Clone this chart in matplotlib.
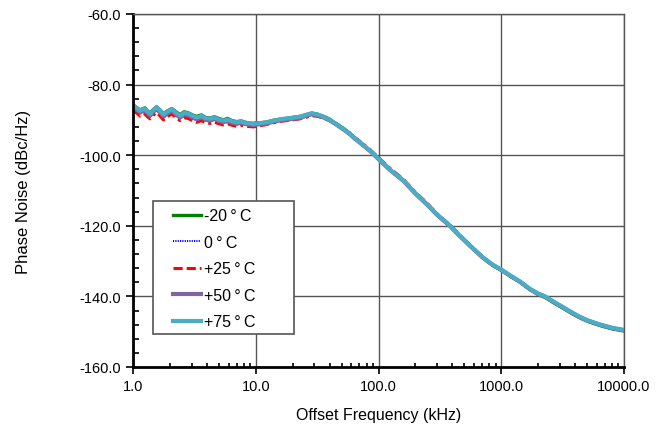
import matplotlib.pyplot as plt
from matplotlib.ticker import FixedLocator, MultipleLocator, LogLocator, NullFormatter
from matplotlib.patches import Rectangle

plt.rcParams['font.family'] = ['Liberation Sans', 'DejaVu Sans']

# offset frequency in kHz
freq = [1.00, 1.07, 1.14, 1.20, 1.25, 1.31, 1.38, 1.47, 1.56, 1.66,
        1.77, 1.92, 2.07, 2.24, 2.42, 2.61, 2.82, 3.05, 3.30, 3.60,
        3.90, 4.24, 4.60, 5.00, 5.45, 5.90, 6.40, 7.00, 7.60, 8.30,
        9.00, 9.60, 10.0, 11.0, 12.3, 14.0, 16.8, 20.0, 23.0, 26.0,
        28.6, 32.0, 35.6, 40.0, 43.0, 47.0, 51.8, 58.7, 64.0, 70.8,
        78.0, 85.3, 92.0, 100, 125, 160, 200, 247, 300, 383,
        450, 557, 700, 850, 1000, 1200, 1426, 1700, 2000, 2280,
        2700, 3200, 3700, 4263, 5000, 5700, 6600, 8000, 10000]

pn_m20 = [-85.7, -86.5, -87.2, -86.8, -86.6, -87.4, -88.0, -87.0, -86.3, -87.2,
          -88.2, -87.4, -86.8, -87.7, -88.5, -87.7, -88.0, -88.6, -89.0, -88.6,
          -89.3, -89.5, -89.1, -89.6, -90.0, -89.6, -90.2, -90.5, -90.3, -90.7,
          -90.9, -91.0, -90.8, -90.8, -90.6, -90.1, -89.7, -89.3, -89.0, -88.5,
          -88.1, -88.4, -89.0, -89.8, -90.6, -91.4, -92.4, -93.9, -95.1, -96.3,
          -97.6, -98.8, -99.9, -101.1, -104.2, -107.3, -110.9, -113.9, -116.9, -120.1,
          -122.6, -125.7, -128.9, -131.2, -132.6, -134.4, -136.0, -138.0, -139.5, -140.3,
          -141.9, -143.4, -144.7, -145.9, -147.0, -147.7, -148.4, -149.2, -149.8]

pn_0 = [-86.8, -87.4, -88.3, -87.8, -87.8, -88.5, -89.1, -88.0, -87.3, -88.3,
        -89.4, -88.4, -87.8, -88.9, -89.6, -88.8, -89.0, -89.6, -90.1, -89.7,
        -90.2, -90.5, -90.0, -90.6, -90.9, -90.6, -91.0, -91.3, -91.0, -91.4,
        -91.5, -91.6, -91.4, -91.3, -91.0, -90.5, -90.0, -89.7, -89.4, -88.8,
        -88.4, -88.8, -89.3, -90.1, -90.8, -91.7, -92.7, -94.0, -95.3, -96.5,
        -97.7, -98.8, -99.9, -101.0, -104.1, -107.2, -110.8, -113.8, -116.8, -120.0,
        -122.5, -125.6, -128.8, -131.1, -132.5, -134.3, -135.9, -137.9, -139.3, -140.1,
        -141.7, -143.2, -144.5, -145.7, -146.8, -147.5, -148.2, -149.0, -149.6]

pn_25 = [-87.3, -88.0, -88.9, -88.3, -88.3, -89.1, -89.7, -88.6, -87.9, -88.9,
         -90.0, -89.0, -88.3, -89.4, -90.2, -89.4, -89.6, -90.2, -90.7, -90.2,
         -90.8, -91.0, -90.6, -91.1, -91.4, -91.1, -91.5, -91.8, -91.5, -91.8,
         -91.9, -92.0, -91.8, -91.6, -91.3, -90.8, -90.3, -90.0, -89.7, -89.2,
         -88.8, -89.0, -89.5, -90.2, -90.9, -91.6, -92.5, -93.8, -95.0, -96.1,
         -97.3, -98.4, -99.5, -100.7, -103.8, -106.9, -110.5, -113.5, -116.6, -119.8,
         -122.3, -125.5, -128.7, -131.0, -132.4, -134.2, -135.8, -137.8, -139.2, -140.0,
         -141.6, -143.1, -144.4, -145.6, -146.7, -147.4, -148.1, -148.9, -149.5]

pn_50 = [-86.4, -87.1, -87.9, -87.4, -87.4, -88.1, -88.8, -87.6, -86.9, -87.9,
         -89.0, -88.1, -87.4, -88.5, -89.3, -88.5, -88.7, -89.3, -89.8, -89.3,
         -89.9, -90.2, -89.7, -90.3, -90.6, -90.3, -90.8, -91.1, -90.8, -91.2,
         -91.3, -91.5, -91.3, -91.2, -91.0, -90.5, -90.0, -89.7, -89.4, -88.8,
         -88.4, -88.7, -89.3, -90.1, -90.8, -91.7, -92.7, -94.1, -95.3, -96.5,
         -97.7, -98.8, -99.9, -101.1, -104.3, -107.3, -110.9, -113.9, -116.9, -120.1,
         -122.6, -125.7, -128.9, -131.1, -132.5, -134.3, -135.9, -137.9, -139.3, -140.1,
         -141.7, -143.2, -144.5, -145.7, -146.8, -147.5, -148.2, -149.0, -149.6]

pn_75 = [-86.0, -86.6, -87.4, -87.0, -86.9, -87.6, -88.3, -87.2, -86.4, -87.4,
         -88.5, -87.6, -86.9, -88.0, -88.8, -88.0, -88.2, -88.8, -89.3, -88.9,
         -89.5, -89.7, -89.3, -89.9, -90.2, -89.9, -90.4, -90.7, -90.4, -90.9,
         -91.0, -91.2, -91.0, -90.9, -90.7, -90.2, -89.7, -89.4, -89.1, -88.5,
         -88.1, -88.5, -89.1, -89.9, -90.7, -91.6, -92.6, -94.0, -95.2, -96.4,
         -97.6, -98.7, -99.8, -101.0, -104.2, -107.2, -110.8, -113.8, -116.8, -120.0,
         -122.5, -125.6, -128.8, -131.0, -132.4, -134.2, -135.8, -137.8, -139.2, -140.0,
         -141.6, -143.1, -144.4, -145.6, -146.7, -147.4, -148.1, -148.9, -149.5]

xticks = [1, 10, 100, 1000, 10000]
yticks = [-160, -140, -120, -100, -80, -60]

fig = plt.figure(figsize=(6.64, 4.31), dpi=100)
ax = fig.add_axes([0.2003, 0.1462, 0.7395, 0.819])

ax.plot(freq, pn_m20, color='#008000', lw=2.4, label='-20\u2009°\u2009C')
ax.plot(freq, pn_0, color='#0000ff', lw=1.4, ls=(0, (0.6, 0.6)), label='0\u2009°\u2009C')
ax.plot(freq, pn_25, color='#ff0000', lw=2.2, dashes=[3, 1.3, 3, 1.3, 1, 1.3], label='+25\u2009°\u2009C')
ax.plot(freq, pn_50, color='#8064a2', lw=3, label='+50\u2009°\u2009C')
ax.plot(freq, pn_75, color='#4bacc6', lw=3, label='+75\u2009°\u2009C')

ax.set_xscale('log')
ax.set_xlim(1, 10000)
ax.set_ylim(-160, -60)

ax.xaxis.set_major_locator(FixedLocator(xticks))
ax.set_xticklabels(['%.1f' % v for v in xticks], fontsize=10.5)
ax.xaxis.set_minor_locator(LogLocator(base=10, subs=range(2, 10)))
ax.xaxis.set_minor_formatter(NullFormatter())
ax.yaxis.set_major_locator(FixedLocator(yticks))
ax.set_yticklabels(['%.1f' % v for v in yticks], fontsize=10.5)
ax.yaxis.set_minor_locator(MultipleLocator(4))

ax.tick_params(which='major', direction='out', length=5, width=1.2, color='black')
ax.tick_params(which='minor', direction='in', length=4, width=1.2, color='black')
ax.tick_params(axis='x', which='minor', length=3)

ax.grid(True, which='major', color='#555555', lw=1)
ax.set_axisbelow(True)

for s in ['left', 'bottom']:
    ax.spines[s].set_linewidth(2)
    ax.spines[s].set_color('black')
for s in ['top', 'right']:
    ax.spines[s].set_linewidth(1)
    ax.spines[s].set_color('#555555')

ax.set_xlabel('Offset Frequency (kHz)', fontsize=11.5, labelpad=10)
ax.set_ylabel('Phase Noise (dBc/Hz)', fontsize=12, labelpad=35)

# legend with a wide frame like the original
ax.add_patch(Rectangle((0.041, 0.093), 0.287, 0.377, transform=ax.transAxes,
                       facecolor='white', edgecolor='#555555', lw=1.2, zorder=4))
leg = ax.legend(loc='upper left', bbox_to_anchor=(0.069, 0.468), frameon=False,
                fontsize=11.5, handlelength=1.75, handletextpad=0.15,
                labelspacing=0.72, borderaxespad=0)
leg.set_zorder(5)

fig.savefig('out.png', dpi=100)
